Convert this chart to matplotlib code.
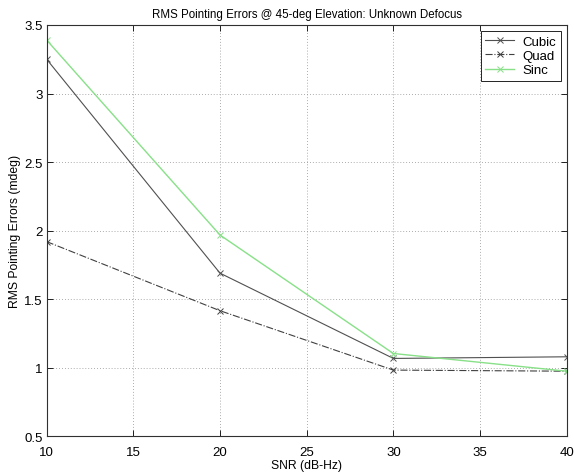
import matplotlib
matplotlib.use('Agg')
import matplotlib.pyplot as plt

plt.rcParams['font.family'] = ['Liberation Sans', 'DejaVu Sans']

# SNR sweep and RMS pointing error per interpolator
snr = [10, 20, 30, 40]
cubic = [3.25, 1.69, 1.068, 1.08]
quad = [1.92, 1.416, 0.983, 0.975]
sinc = [3.39, 1.968, 1.104, 0.975]

xticks = [10, 15, 20, 25, 30, 35, 40]
yticks = [0.5, 1, 1.5, 2, 2.5, 3, 3.5]

fig = plt.figure(figsize=(5.74, 4.77), dpi=100)
ax = fig.add_axes([0.0813, 0.0832, 0.906, 0.8623])

ax.plot(snr, cubic, color='#505050', lw=0.8, marker='x', ms=4, mew=0.7, label='Cubic')
ax.plot(snr, quad, color='#404040', lw=0.8, ls='-.', marker='x', ms=4, mew=0.7, label='Quad')
ax.plot(snr, sinc, color='#88e088', lw=1.0, marker='x', ms=4, mew=0.7, label='Sinc')

ax.set_xlim(10, 40)
ax.set_ylim(0.5, 3.5)
ax.set_xticks(xticks)
ax.set_yticks(yticks)
ax.set_yticklabels([f'{v:g}' for v in yticks])
ax.tick_params(direction='in', top=True, right=True, labelsize=9.5, length=4, width=0.6)
ax.tick_params(axis='x', pad=7)
ax.tick_params(axis='y', pad=3)
ax.grid(True, ls=(0, (1, 2.5)), color='#909090', lw=0.6)
for s in ax.spines.values():
    s.set_linewidth(0.8)
    s.set_color('#303030')

ax.set_title('RMS Pointing Errors @ 45-deg Elevation: Unknown Defocus', fontsize=8.3, pad=6)
ax.set_xlabel('SNR (dB-Hz)', fontsize=8.7, labelpad=1)
ax.set_ylabel('RMS Pointing Errors (mdeg)', fontsize=8.7, labelpad=2)

leg = ax.legend(loc='upper right', fontsize=9.5, fancybox=False, edgecolor='black',
                framealpha=1, handlelength=2.2, borderaxespad=0.45, labelspacing=0.15,
                borderpad=0.35, handletextpad=0.6)
leg.get_frame().set_linewidth(0.6)

fig.savefig('out.png', dpi=100)
